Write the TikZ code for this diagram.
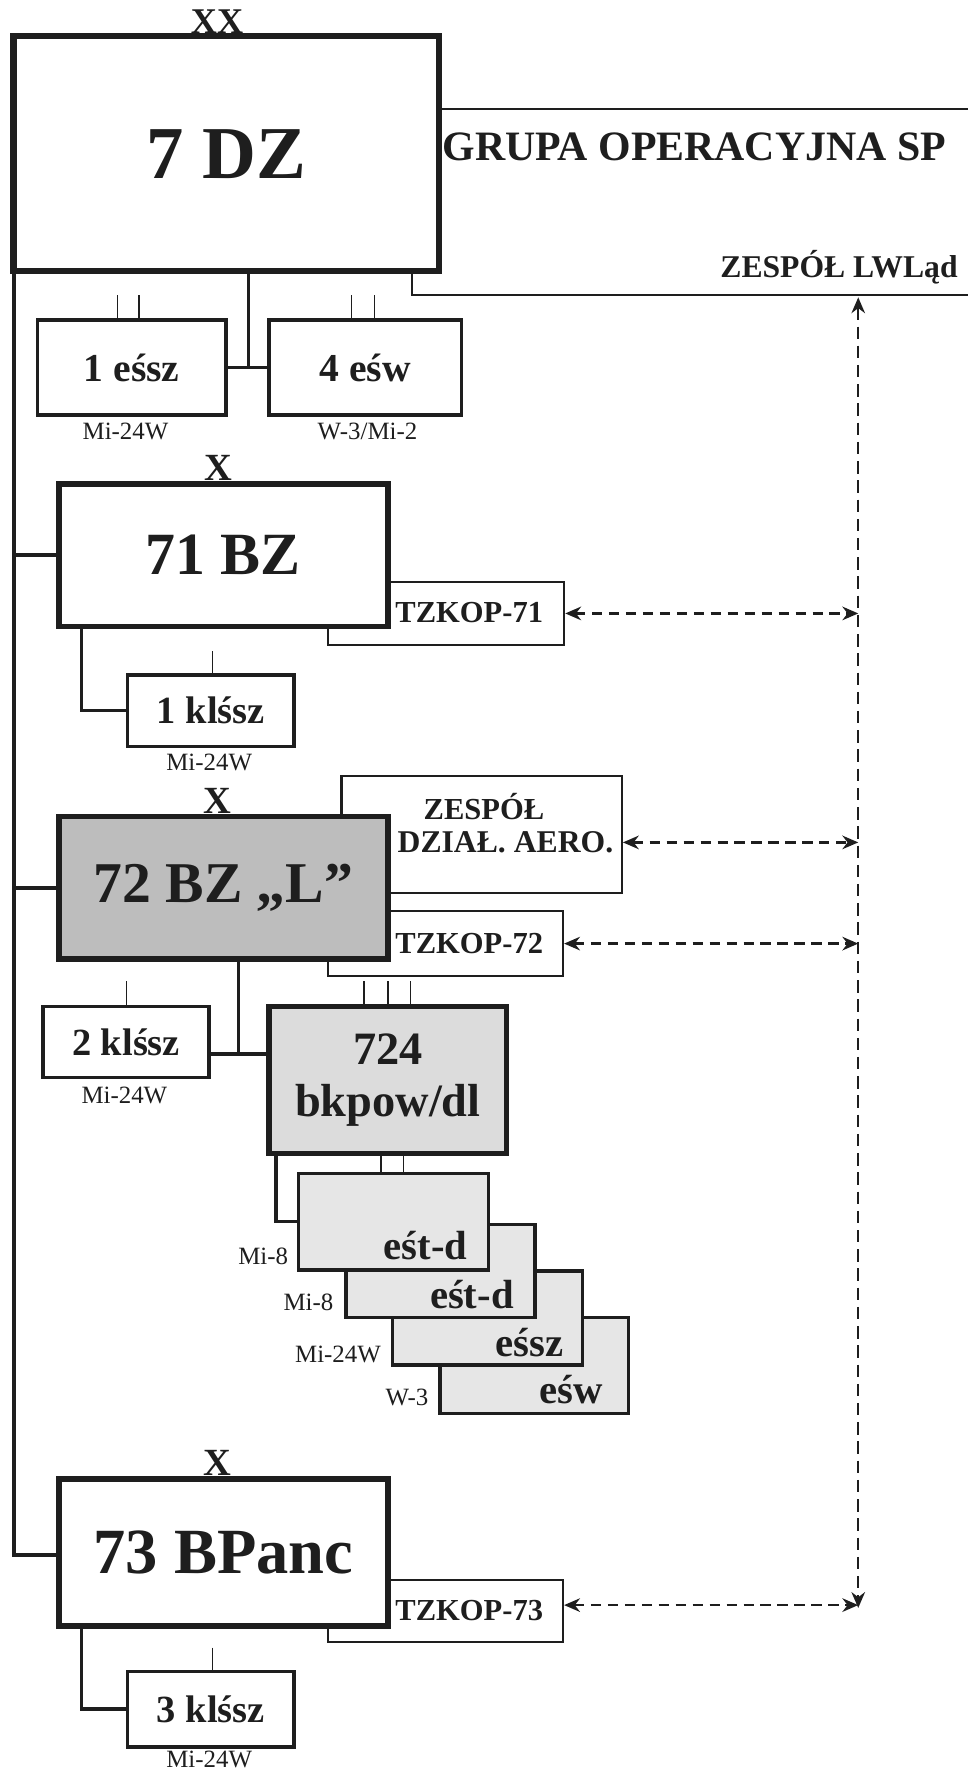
\documentclass[tikz,border=0pt]{standalone}
\usepackage{fontspec}
\setmainfont{Liberation Serif}
\usetikzlibrary{arrows.meta}
\definecolor{ink}{HTML}{1E1E1E}
\definecolor{grayA}{HTML}{BDBDBD}
\definecolor{grayB}{HTML}{DCDCDC}
\definecolor{grayC}{HTML}{E6E6E6}
\newcommand\bfz[1]{\fontsize{#1}{#1}\selectfont\bfseries}
\newcommand\rgz[1]{\fontsize{#1}{#1}\selectfont}
\begin{document}
\begin{tikzpicture}[x=1pt,y=-1pt,
  every node/.style={text=ink},
  hugebox/.style={draw=ink,line width=5.5pt,fill=white,inner sep=0pt},
  bigbox/.style={draw=ink,line width=5pt,fill=white,inner sep=0pt},
  midbox/.style={draw=ink,line width=3pt,fill=white,inner sep=0pt},
  thinbox/.style={draw=ink,line width=1.8pt,fill=white,inner sep=0pt},
  thinline/.style={draw=ink,line width=1.8pt},
  trunk/.style={draw=ink,line width=3.5pt},
  link/.style={draw=ink,line width=3pt},
  tick/.style={draw=ink,line width=1.3pt},
  txt/.style={inner sep=0pt},
  lbl/.style={inner sep=0pt,font=\rgz{22}},
  dasharrow/.style={draw=ink,line width=2.1pt,dash pattern=on 9pt off 6pt,
    {Stealth[length=14pt,width=12pt]}-{Stealth[length=14pt,width=12pt]}},
  vdasharrow/.style={draw=ink,line width=1.8pt,dash pattern=on 11pt off 6pt,
    {Stealth[length=14pt,width=12pt]}-{Stealth[length=14pt,width=12pt]}}
]
\useasboundingbox[fill=white] (0,0) rectangle (856,1568);

% ---- group box (open lines behind 7 DZ)
\coordinate (gtop) at (380,96);
\coordinate (gcorner) at (364,261);
\draw[thinline] (gtop) -- (856,96);
\draw[thinline] (364,236) -- (gcorner) -- (856,261);
\node[txt,font=\bfz{37}] (grp) at (614,130) {GRUPA OPERACYJNA SP};
\node[txt,font=\bfz{28}] (lwl) at (742,236) {ZESPÓŁ LWLąd};

% ---- 7 DZ
\node[hugebox,minimum width=376pt,minimum height=208pt,font=\bfz{66}] (dz) at (200,136) {7 DZ};
\node[txt,font=\bfz{32}] (xx) at (192,19) {XX};

% ---- 1 eśsz / 4 eśw
\node[midbox,minimum width=167pt,minimum height=84pt,font=\bfz{35}] (esz) at (116.5,325) {1 eśsz};
\node[midbox,minimum width=170pt,minimum height=84pt,font=\bfz{35}] (esw) at (323,325) {4 eśw};
\node[lbl] (l1) at (111,382) {Mi-24W};
\node[lbl] (l2) at (325,382) {W-3/Mi-2};
\coordinate (j7) at (220,325);
\draw[link] (dz.south -| j7) -- (j7);
\draw[link] (esz.east) -- (esw.west);
\draw[tick] ([xshift=-12.5pt]esz.north) -- ++(0,-21);
\draw[tick] ([xshift=6.5pt]esz.north) -- ++(0,-21);
\draw[tick] ([xshift=-12pt]esw.north) -- ++(0,-21);
\draw[tick] ([xshift=8pt]esw.north) -- ++(0,-21);

% ---- trunk
\coordinate (tr0) at (12,240);
\coordinate (tr1) at (12,1375);
\draw[trunk] (tr0) -- (tr1) -- (52,1375);

% ---- 71 BZ
\node[thinbox,minimum width=209pt,minimum height=55pt] (tz71) at (394.5,542.5) {};
\node[bigbox,minimum width=291pt,minimum height=126pt,font=\bfz{53}] (bz71) at (197.5,491) {71 BZ};
\node[txt,font=\bfz{27}] (tz71t) at (415,542) {TZKOP-71};
\node[txt,font=\bfz{34}] (x71) at (193,414) {X};
\draw[trunk] (tr0 |- bz71.west) -- (bz71.west);
\node[midbox,minimum width=147pt,minimum height=63pt,font=\bfz{34}] (k1) at (186.5,628.5) {1 klśsz};
\node[lbl] (l3) at (185,674) {Mi-24W};
\coordinate (c71) at (72,556);
\draw[link] (c71) |- (k1.west);
\draw[tick] (188,576) -- (k1.north -| 188,0);

% ---- 72 BZ
\node[thinbox,minimum width=248pt,minimum height=104pt] (aero) at (426,738) {};
\node[thinbox,minimum width=208pt,minimum height=57pt] (tz72) at (394,834.5) {};
\node[bigbox,fill=grayA,minimum width=291pt,minimum height=126pt,font=\bfz{51}] (bz72) at (197.5,785) {72 BZ „L”};
\node[txt,font=\bfz{27}] (aerot1) at (428,713) {ZESPÓŁ};
\node[txt,font=\bfz{28}] (aerot2) at (447,745) {DZIAŁ. AERO.};
\node[txt,font=\bfz{27}] (tz72t) at (415,834) {TZKOP-72};
\node[txt,font=\bfz{34}] (x72) at (192,708) {X};
\draw[trunk] (tr0 |- bz72.west) -- (bz72.west);

\node[midbox,minimum width=147pt,minimum height=63pt,font=\bfz{34}] (k2) at (111.5,921.5) {2 klśsz};
\node[lbl] (l4) at (110,969) {Mi-24W};
\draw[tick] (112,868) -- (k2.north -| 112,0);
\node[bigbox,fill=grayB,minimum width=210pt,minimum height=130pt,align=center,font=\fontsize{41}{46}\selectfont\bfseries] (b724) at (343,955) {724\\bkpow/dl};
\coordinate (j72) at (211,932);
\draw[link] (bz72.south -| j72) -- (j72);
\draw[link] (k2.east |- j72) -- (b724.west |- j72);
\draw[tick] (322,868) -- (b724.north -| 322,0);
\draw[tick] (343,868) -- (b724.north -| 343,0);
\draw[tick] (363,868) -- (b724.north -| 363,0);

% ---- stacked squadrons
\node[midbox,fill=grayC,minimum width=167pt,minimum height=85pt] (s4) at (472.5,1207.5) {};
\node[midbox,fill=grayC,minimum width=168pt,minimum height=83pt] (s3) at (431,1165.5) {};
\node[midbox,fill=grayC,minimum width=167pt,minimum height=82pt] (s2) at (389.5,1124) {};
\node[midbox,fill=grayC,minimum width=168pt,minimum height=85pt] (s1) at (348,1080.5) {};
\node[txt,anchor=base east,font=\bfz{36}] (s1t) at ([xshift=-20pt,yshift=11pt]s1.south east) {eśt-d};
\node[txt,anchor=base east,font=\bfz{36}] (s2t) at ([xshift=-20pt,yshift=9pt]s2.south east) {eśt-d};
\node[txt,anchor=base east,font=\bfz{36}] (s3t) at ([xshift=-18pt,yshift=9pt]s3.south east) {eśsz};
\node[txt,anchor=base east,font=\bfz{36}] (s4t) at ([xshift=-24pt,yshift=10pt]s4.south east) {eśw};
\node[lbl,anchor=east] (l5) at (255,1111) {Mi-8};
\node[lbl,anchor=east] (l6) at (295,1152) {Mi-8};
\node[lbl,anchor=east] (l7) at (337,1198) {Mi-24W};
\node[lbl,anchor=east] (l8) at (379,1236) {W-3};
\coordinate (c724) at (244,1022);
\draw[link] (c724) |- (s1.west);
\draw[tick] (337,1022) -- (s1.north -| 337,0);
\draw[tick] (357,1022) -- (s1.north -| 357,0);

% ---- 73 BPanc
\node[thinbox,minimum width=208pt,minimum height=55pt] (tz73) at (394,1424.5) {};
\node[bigbox,minimum width=291pt,minimum height=130pt,font=\bfz{57}] (bp73) at (197.5,1373) {73 BPanc};
\node[txt,font=\bfz{27}] (tz73t) at (415,1424) {TZKOP-73};
\node[txt,font=\bfz{34}] (x73) at (192,1294) {X};
\node[midbox,minimum width=147pt,minimum height=67pt,font=\bfz{34}] (k3) at (186.5,1511.5) {3 klśsz};
\node[lbl] (l9) at (185,1556) {Mi-24W};
\coordinate (c73) at (72,1440);
\draw[link] (c73) |- (k3.west);
\draw[tick] (188,1457) -- (k3.north -| 188,0);

% ---- liaison dashed arrows
\coordinate (lwtop) at (759,263);
\coordinate (lwbot) at (759,1422);
\draw[vdasharrow] (lwtop) -- (lwbot);
\draw[dasharrow] (tz71.east) -- (tz71.east -| lwtop);
\draw[dasharrow] ([yshift=-7pt]aero.east) -- ([yshift=-7pt]aero.east -| lwtop);
\draw[dasharrow] (tz72.east) -- (tz72.east -| lwtop);
\draw[dasharrow] ([yshift=5pt]tz73.east) -- ([yshift=5pt]tz73.east -| lwtop);
\end{tikzpicture}
\end{document}
